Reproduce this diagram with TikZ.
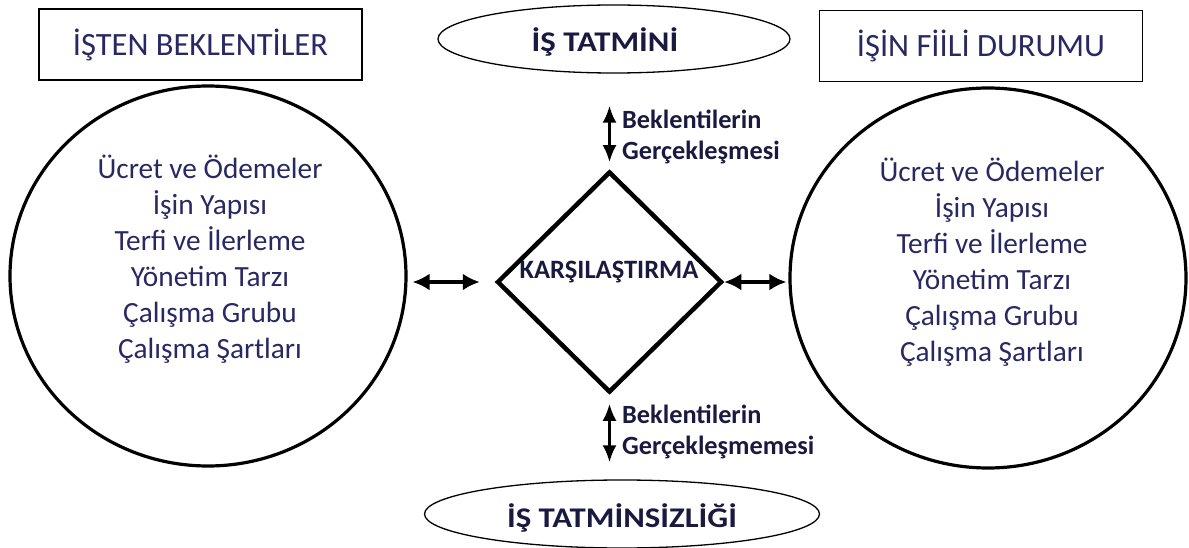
\documentclass[tikz,border=0pt]{standalone}
\usepackage{fontspec}
\setmainfont{Carlito}
\usetikzlibrary{shapes.geometric,arrows.meta}
\definecolor{txtblue}{RGB}{40,40,98}
\definecolor{txtdark}{RGB}{26,26,64}
\tikzset{
  titlebox/.style={draw, line width=1.8pt, minimum width=323pt, minimum height=71pt, inner sep=0pt, text=txtblue, font=\fontsize{32.5}{38}\selectfont},
  oval/.style={draw, ellipse, line width=1.3pt, inner sep=0pt},
  ovaltxt/.style={inner sep=0pt, text=txtdark, font=\fontsize{28.5}{34}\selectfont\bfseries, xscale=1.15, transform shape},
  bigcirc/.style={draw, ellipse, line width=3.2pt, minimum width=396pt, minimum height=380pt, inner sep=0pt},
  listtxt/.style={align=center, text=txtblue, font=\fontsize{29.3}{36}\selectfont},
  sidetxt/.style={align=left, anchor=west, inner sep=0pt, text=txtdark, font=\fontsize{26.3}{31}\selectfont\bfseries},
  dblh/.style={{Latex[length=17pt,width=17pt]}-{Latex[length=17pt,width=17pt]}, line width=3.2pt},
  dblv/.style={{Latex[length=17pt,width=14pt]}-{Latex[length=17pt,width=14pt]}, line width=3pt},
}
\begin{document}
\begin{tikzpicture}[x=1pt,y=-1pt]
\useasboundingbox (0,0) rectangle (1189,548);
% title boxes
\node[titlebox] (lb) at (200.5,44.5) {İŞTEN BEKLENTİLER};
\node[titlebox] (rb) at (981,46) {İŞİN FİİLİ DURUMU};
% ovals
\node[oval, minimum width=352pt, minimum height=68pt] (te) at (614,39) {};
\node[ovaltxt] (tet) at (605,42) {İŞ TATMİNİ};
\node[oval, minimum width=395pt, minimum height=68pt] (be) at (622,514) {};
\node[ovaltxt] (bet) at (622,518) {İŞ TATMİNSİZLİĞİ};
% circles
\node[bigcirc] (lc) at (208,276) {};
\node[bigcirc] (rc) at (988,278) {};
\node[listtxt] (lt) at (210,259) {Ücret ve Ödemeler\\İşin Yapısı\\Terfi ve İlerleme\\Yönetim Tarzı\\Çalışma Grubu\\Çalışma Şartları};
\node[listtxt] (rt) at (992,262) {Ücret ve Ödemeler\\İşin Yapısı\\Terfi ve İlerleme\\Yönetim Tarzı\\Çalışma Grubu\\Çalışma Şartları};
% diamond
\node[draw, diamond, line width=4.5pt, minimum width=225pt, minimum height=221pt, inner sep=0pt] (cmp) at (609.5,282) {};
\node[text=txtdark, font=\fontsize{26.5}{31}\selectfont\bfseries, inner sep=0pt] (cmpt) at (609,272) {KARŞILAŞTIRMA};
% horizontal arrows
\draw[dblh, shorten <=5pt, shorten >=15pt] (lc.east |- cmp.west) -- (cmp.west);
\draw[dblh, shorten >=2pt] (cmp.east) -- (rc.west |- cmp.east);
% vertical arrows
\draw[dblv, shorten <=7pt, shorten >=32pt] (cmp.north) -- (cmp.north |- te.south);
\draw[dblv, shorten <=9pt, shorten >=17pt] (cmp.south) -- (cmp.south |- be.north);
% side labels
\node[sidetxt] (ut) at (622,137) {Beklentilerin\\Gerçekleşmesi};
\node[sidetxt] (dt) at (622,432) {Beklentilerin\\Gerçekleşmemesi};
\end{tikzpicture}
\end{document}
